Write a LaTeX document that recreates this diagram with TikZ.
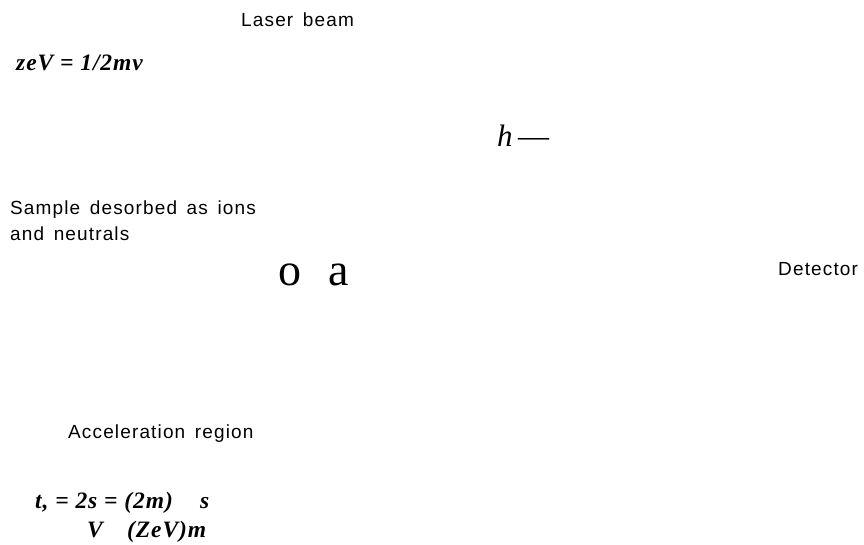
\documentclass[tikz,border=0pt]{standalone}
\usepackage{fontspec}
\setmainfont{Liberation Serif}
\newfontfamily\labfont[LetterSpace=6,WordSpace=1.5]{Liberation Sans}
\newfontfamily\eqfont[LetterSpace=4]{Liberation Serif}
\begin{document}
\begin{tikzpicture}[x=1pt,y=-1pt,
  lab/.style={anchor=base west,inner sep=0pt,font=\labfont\fontsize{19}{23}\selectfont},
  eqn/.style={anchor=base west,inner sep=0pt,font=\eqfont\bfseries\itshape\fontsize{23.5}{27}\selectfont},
  big/.style={anchor=base west,inner sep=0pt,font=\fontsize{46}{52}\selectfont}]
\useasboundingbox (0,0) rectangle (864,544);
\node[lab] (laser) at (241,26.7) {Laser beam};
\node[eqn] (ke) at (16,70) {zeV = 1/2mv};
\node[anchor=base west,inner sep=0pt,font=\itshape\fontsize{31}{36}\selectfont] (h) at (497,146.7) {h};
\node[anchor=base west,inner sep=0pt,font=\fontsize{31}{36}\selectfont] (hdash) at (518,146.7) {—};
\node[lab] (sample1) at (10,214) {Sample desorbed as ions};
\node[lab] (sample2) at (10,240) {and neutrals};
\node[big] (o) at (278,285) {o};
\node[big] (a) at (328,285) {a};
\node[lab] (det) at (778,275) {Detector};
\node[lab] (acc) at (68,438) {Acceleration region};
\node[eqn] (t1) at (35,508) {t, = 2s = (2m)};
\node[eqn] (t1s) at (200,508) {s};
\node[eqn] (t2v) at (87,537) {V};
\node[eqn] (t2z) at (127,537) {(ZeV)m};
\end{tikzpicture}
\end{document}
